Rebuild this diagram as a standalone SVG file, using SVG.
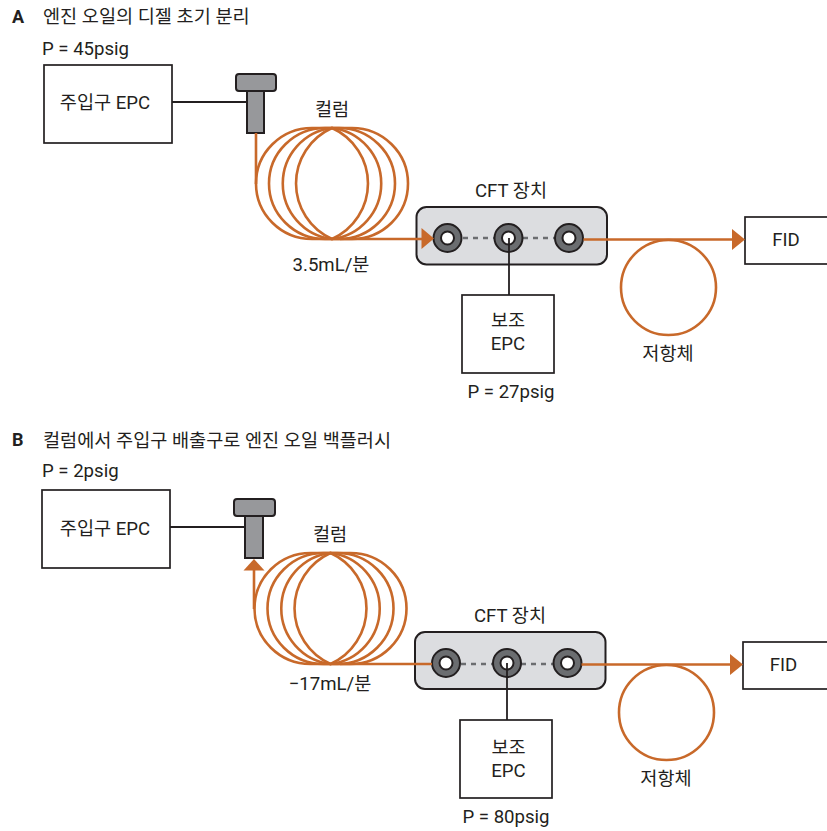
<svg xmlns="http://www.w3.org/2000/svg" width="827" height="831" viewBox="0 0 827 831">
<style>
text{font-family:Roboto,"Noto Sans CJK KR",sans-serif;font-size:18.6px;fill:#231f20}
.m{text-anchor:middle}
.h{font-weight:700;font-size:18px}
.box{fill:#fff;stroke:#231f20;stroke-width:1.7}
.wire{fill:none;stroke:#231f20;stroke-width:1.8}
.t{fill:#97989b;stroke:#231f20;stroke-width:2}
.dev{fill:#dcdde0;stroke:#231f20;stroke-width:2}
.fit{fill:#6b6d70;stroke:#231f20;stroke-width:2}
.hole{fill:#fff;stroke:#231f20;stroke-width:2}
.or{fill:none;stroke:#c8692a;stroke-width:2.6}
.orf{fill:#c8692a}
.dot{fill:none;stroke:#6b6d70;stroke-width:2.6;stroke-dasharray:5 5}
</style>
<defs>
<g id="coil" class="or">
<path d="M332 128A60.800 60.800 0 0 0 332 239A60.800 60.800 0 0 0 332 128Z"/>
<path d="M332 128A55.900 55.900 0 0 0 332 239A55.900 55.900 0 0 0 332 128Z"/>
<path d="M332 128H325A56 55.500 0 0 0 325 239H339A56 55.500 0 0 0 339 128Z"/>
<path d="M312 128A56 55.500 0 0 0 312 239H352A56 55.500 0 0 0 352 128Z"/>
</g>
<g id="fitting">
<circle r="14" class="fit"/><circle r="6.500" class="hole"/>
</g>
</defs>
<g id="a-title"><text class="h" x="12" y="23">A</text><text x="43" y="23">엔진 오일의 디젤 초기 분리</text></g>
<g id="a-epc"><rect class="box" x="44" y="65" width="128" height="78"/><text class="m" x="105" y="109">주입구 EPC</text><text x="42" y="55">P = 45psig</text></g>
<g id="a-inlet"><rect class="t" x="247" y="91" width="17" height="42"/><rect class="t" x="236" y="74" width="40" height="17" rx="3"/></g>
<g id="a-column"><use href="#coil"/><text class="m" x="332" y="116">컬럼</text><text class="m" x="331" y="271">3.5mL/분</text></g>
<g id="a-cft"><text class="m" x="511" y="197">CFT 장치</text><rect class="dev" x="416.500" y="207" width="190.500" height="57.500" rx="10"/><path class="dot" d="M463 238H555"/><use href="#fitting" x="447.500" y="238"/><use href="#fitting" x="508.500" y="238"/><use href="#fitting" x="569" y="238"/></g>
<g id="a-aux"><rect class="box" x="462" y="295" width="92" height="78"/><text class="m" x="508" y="327">보조</text><text class="m" x="508" y="350">EPC</text><text class="m" x="511" y="398">P = 27psig</text></g>
<g id="a-restrictor"><circle class="or" cx="668.500" cy="287.500" r="47.500"/><text class="m" x="668" y="360">저항체</text></g>
<g id="a-fid"><rect class="box" x="745" y="217" width="83" height="47"/><text class="m" x="786" y="246">FID</text></g>
<g id="b-title"><text class="h" x="12" y="446">B</text><text x="43" y="447">컬럼에서 주입구 배출구로 엔진 오일 백플러시</text></g>
<g id="b-epc"><rect class="box" x="42" y="490" width="128" height="78"/><text class="m" x="105" y="535">주입구 EPC</text><text x="42" y="477">P = 2psig</text></g>
<g id="b-inlet"><rect class="t" x="245" y="516" width="18" height="42"/><rect class="t" x="234" y="499" width="41" height="17" rx="3"/></g>
<g id="b-column"><use href="#coil" x="-1.500" y="425"/><text class="m" x="330" y="541">컬럼</text><text class="m" x="330" y="690">−17mL/분</text></g>
<g id="b-cft"><text class="m" x="510" y="622">CFT 장치</text><rect class="dev" x="415" y="632" width="190.500" height="57" rx="10"/><path class="dot" d="M461 664H553"/><use href="#fitting" x="446" y="663"/><use href="#fitting" x="507" y="663"/><use href="#fitting" x="567.500" y="663"/></g>
<g id="b-aux"><rect class="box" x="460" y="720" width="92" height="78"/><text class="m" x="508.500" y="754">보조</text><text class="m" x="508.500" y="777">EPC</text><text class="m" x="506" y="823">P = 80psig</text></g>
<g id="b-restrictor"><circle class="or" cx="666.500" cy="712.500" r="47.500"/><text class="m" x="666" y="785">저항체</text></g>
<g id="b-fid"><rect class="box" x="743" y="642" width="85" height="47"/><text class="m" x="783.500" y="671">FID</text></g>
<g id="connectors">
<path class="wire" d="M172 102H247"/>
<path class="or" d="M256 133V184"/>
<path class="or" d="M340 239H424"/>
<path class="orf" d="M421.500 228L434 238.500L421.500 249Z"/>
<path class="or" d="M583.500 239.500H735"/>
<path class="orf" d="M732 229L745 239.500L732 250Z"/>
<path class="wire" d="M509 238V295"/>
<path class="wire" d="M170 527H245"/>
<path class="or" d="M254 568V609"/>
<path class="orf" d="M254 559L264.500 570.500H243.500Z"/>
<path class="or" d="M340 664H432"/>
<path class="or" d="M581.500 664.500H733"/>
<path class="orf" d="M730 654L743 664.500L730 675Z"/>
<path class="wire" d="M507 663V720"/>
</g>
</svg>
